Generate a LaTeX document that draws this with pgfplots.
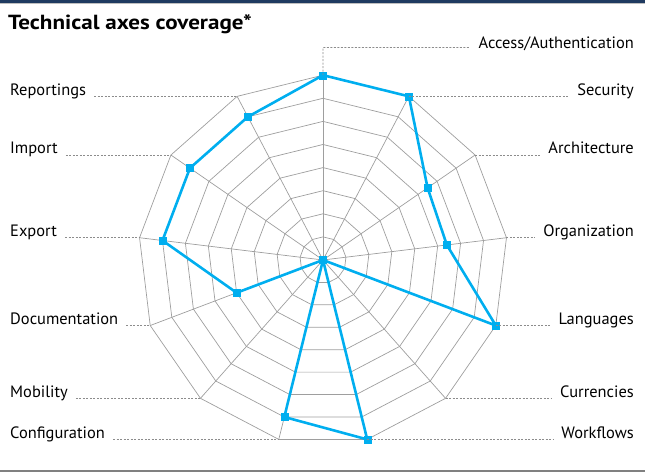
\documentclass[border=0pt]{standalone}
\usepackage{pgfplots}
\pgfplotsset{compat=1.18}
\usepackage{fontspec}
\setmainfont{PT Sans}
\newfontfamily\titlefont[FakeStretch=1.13]{PT Sans Bold}
\definecolor{linec}{HTML}{00AEEF}
\definecolor{gridc}{HTML}{9E9E9E}
\definecolor{leadc}{HTML}{8C8C8C}
\definecolor{navy}{HTML}{1F3A60}
\begin{document}
\begin{tikzpicture}[x=1bp,y=1bp,
  lab/.style={font=\fontsize{16.5}{17}\selectfont, inner sep=0pt},
  lead/.style={draw=leadc, line width=0.8bp, dash pattern=on 2bp off 1.5bp}]
\path[use as bounding box] (0,0) rectangle (645,472);
\fill[navy] (0,469) rectangle (645,472);
\fill[black!25] (0,468) rectangle (645,469);
\fill[black!50] (0,0) rectangle (645,2);
\node[anchor=base west, inner sep=0pt, font=\titlefont\fontsize{20.5}{21}\selectfont] at (8,442.5) {Technical axes coverage*};
\begin{axis}[at={(323bp,212bp)}, anchor=origin, x=23.1bp, y=23.1bp,
  xmin=-9, xmax=9, ymin=-9, ymax=9, hide axis, clip=false]
\pgfplotsinvokeforeach{1,...,8}{
\addplot[gridc, line width=0.7bp, no marks, data cs=polar] coordinates {(90,#1) (62.3077,#1) (34.6154,#1) (6.9231,#1) (-20.7692,#1) (-48.4615,#1) (-76.1538,#1) (-103.8462,#1) (-131.5385,#1) (-159.2308,#1) (-186.9231,#1) (-214.6154,#1) (-242.3077,#1) (-270,#1)};
}
\pgfplotsinvokeforeach{90,62.3077,34.6154,6.9231,-20.7692,-48.4615,-76.1538,-103.8462,-131.5385,-159.2308,-186.9231,-214.6154,-242.3077}{
\addplot[gridc, line width=0.7bp, no marks, data cs=polar] coordinates {(#1,0) (#1,8)};
}
\addplot[draw=linec, line width=2.6bp, mark=square*, mark size=3.5bp,
  mark options={fill=linec, draw=linec, line width=0.3bp}, data cs=polar]
  coordinates {(90,8) (62.3077,8) (34.6154,5.5) (6.9231,5.4) (-20.7692,8) (-48.4615,0) (-76.1538,8) (-103.8462,7) (-131.5385,0) (-159.2308,4) (-186.9231,7) (-214.6154,7) (-242.3077,7) (-270,8)};
\coordinate (v0) at (axis cs:0,8);
\coordinate (v1) at (axis cs:3.7178,7.0837);
\coordinate (v2) at (axis cs:6.5839,4.5445);
\coordinate (v3) at (axis cs:7.9417,0.9643);
\coordinate (v4) at (axis cs:7.4802,-2.8368);
\coordinate (v5) at (axis cs:5.3050,-5.9881);
\coordinate (v6) at (axis cs:1.9146,-7.7675);
\coordinate (v7) at (axis cs:-1.9146,-7.7675);
\coordinate (v8) at (axis cs:-5.3050,-5.9881);
\coordinate (v9) at (axis cs:-7.4802,-2.8368);
\coordinate (v10) at (axis cs:-7.9417,0.9643);
\coordinate (v11) at (axis cs:-6.5839,4.5445);
\coordinate (v12) at (axis cs:-3.7178,7.0837);
\end{axis}
% top label
\coordinate (t0) at (323,424.5);
\node[lab, anchor=base east] (n0) at (634,423.5) {Access/Authentication};
\draw[lead] (v0) -- (t0) -- ([xshift=-9bp]n0.west |- t0);
% right labels
\foreach \i/\t in {1/Security,2/Architecture,3/Organization,4/Languages,5/Currencies,6/Workflows}{
  \path (v\i) ++(0,1.2) coordinate (b\i);
  \node[lab, anchor=base east] (n\i) at (634,0 |- b\i) {\t};
  \path (n\i.west |- v\i) ++(-8,0) coordinate (e\i);
  \draw[lead] (v\i) -- (e\i);
}
\foreach \i/\t in {7/Configuration,8/Mobility,9/Documentation,10/Export,11/Import,12/Reportings}{
  \path (v\i) ++(0,1.2) coordinate (b\i);
  \node[lab, anchor=base west] (n\i) at (10,0 |- b\i) {\t};
  \path (n\i.east |- v\i) ++(8,0) coordinate (e\i);
  \draw[lead] (e\i) -- (v\i);
}
\end{tikzpicture}
\end{document}
